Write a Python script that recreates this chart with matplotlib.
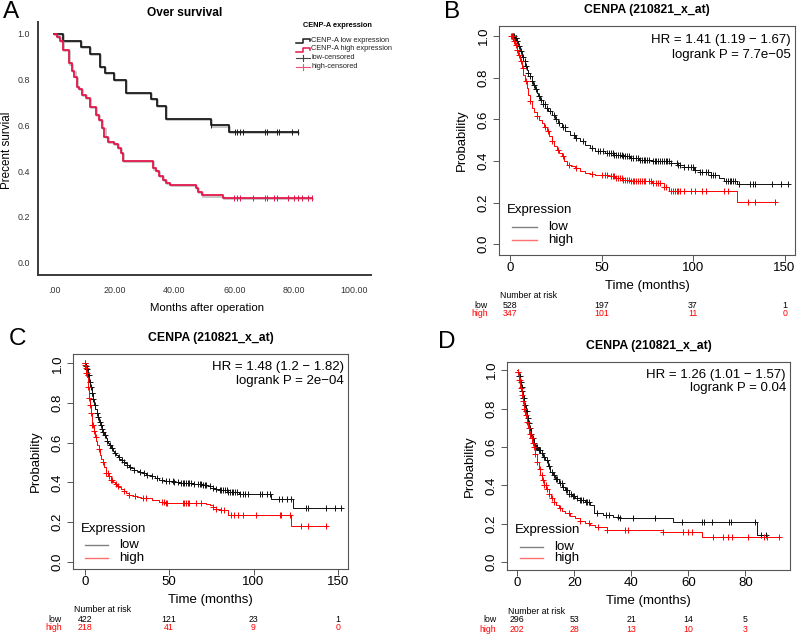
import numpy as np
import matplotlib
matplotlib.use('Agg')
import matplotlib.pyplot as plt
import matplotlib.patheffects as pe
from matplotlib.transforms import blended_transform_factory

# ---------------- data ----------------
# Panel A: over survival, CENP-A low / high
a_low_t = [3.0, 9.0, 12.0, 15.1, 16.9, 20.0, 24.0, 32.1, 34.1, 37.1, 52.1, 58.2]
a_low_s = [0.971, 0.943, 0.914, 0.857, 0.829, 0.800, 0.743, 0.714, 0.686, 0.629, 0.600, 0.571]
a_low_end = 81.1
a_low_cens = [52.1, 60.2, 61.0, 61.9, 63.0, 70.2, 71.0, 74.1, 74.9, 79.1, 81.1]

a_high_t = [0.8, 1.9, 3.0, 4.8, 5.8, 6.7, 7.5, 8.3, 9.3, 10.6, 11.9, 13.9, 15.0, 16.0, 16.7,
            18.0, 19.9, 21.1, 22.2, 23.0, 33.0, 33.9, 35.0, 36.2, 37.2, 38.5, 47.1, 48.0, 49.1, 56.1]
a_high_s = [0.986, 0.971, 0.929, 0.871, 0.838, 0.813, 0.770, 0.758, 0.733, 0.720, 0.682, 0.646, 0.624,
            0.588, 0.551, 0.526, 0.518, 0.503, 0.478, 0.446, 0.412, 0.400, 0.378, 0.363, 0.350, 0.340,
            0.325, 0.308, 0.294, 0.282]
a_high_end = 86.0
a_high_cens = [60.0, 60.8, 61.9, 66.1, 70.2, 71.0, 73.3, 74.1, 78.0, 80.0, 81.3, 82.5, 84.5, 86.0]

a_xticks = [0, 20, 40, 60, 80, 100]
a_xticklabels = ['.00', '20.00', '40.00', '60.00', '80.00', '100.00']

# Panel B
b_low_t = [0.9, 2.2, 3.6, 4.5, 5.5, 6.4, 7.3, 8.2, 9.1, 10.0, 10.9, 11.8, 12.8, 13.7, 14.6, 15.5, 16.4,
           17.8, 19.2, 21.0, 22.8, 24.6, 26.4, 28.2, 30.1, 32.8, 35.6, 38.3, 41.0, 43.7, 46.5, 52.0,
           56.5, 61.1, 65.6, 70.2, 77.5, 88.0, 91.5, 95.0, 100.5, 104.0, 110.0, 114.0, 117.0, 124.0]
b_low_s = [0.998, 0.99, 0.975, 0.95, 0.927, 0.90, 0.879, 0.858, 0.838, 0.822, 0.806, 0.786, 0.766,
           0.746, 0.726, 0.71, 0.694, 0.674, 0.654, 0.638, 0.622, 0.602, 0.582, 0.562, 0.542, 0.526,
           0.51, 0.494, 0.478, 0.462, 0.446, 0.438, 0.43, 0.422, 0.414, 0.406, 0.398, 0.389, 0.381,
           0.373, 0.357, 0.349, 0.333, 0.317, 0.304, 0.289]
b_low_end = 152
b_low_cens = [1, 1.5, 2, 2.5, 3, 3.5, 4, 5, 6, 7, 8, 9, 10, 11, 12, 13, 14, 16, 17, 18, 19, 20, 22, 24,
              25, 27, 29, 30, 35, 36, 40, 45, 48, 49, 51, 53, 54, 55, 56, 57, 58, 59, 60, 61, 62, 63,
              64, 65, 66, 67, 69, 70, 71, 72, 73, 74, 75, 76, 78, 79, 80, 81, 82, 83, 84, 85, 86, 87,
              88, 91, 92, 93, 95, 97, 99, 100, 101, 104, 105, 107, 108, 110, 111, 112, 118, 119, 120,
              121, 122, 123, 125, 131, 133, 134, 143, 148, 152]

b_high_t = [0.9, 1.8, 2.7, 3.6, 4.6, 5.5, 6.4, 7.3, 8.2, 9.1, 10.0, 10.9, 11.9, 13.2, 14.6, 16.0,
            17.3, 18.7, 20.1, 21.4, 22.8, 24.2, 25.6, 27.0, 28.3, 29.6, 31.0, 33.3, 35.6, 38.3, 41.0,
            43.7, 46.5, 53.8, 57.5, 61.1, 65.6, 70.2, 77.5, 84.0, 87.0, 124.0]
b_high_s = [0.998, 0.978, 0.958, 0.934, 0.910, 0.878, 0.846, 0.814, 0.782, 0.75, 0.718, 0.686, 0.654,
            0.634, 0.614, 0.598, 0.582, 0.562, 0.542, 0.518, 0.494, 0.474, 0.454, 0.438, 0.422, 0.402,
            0.382, 0.374, 0.366, 0.354, 0.342, 0.336, 0.331, 0.326, 0.318, 0.310, 0.306, 0.302, 0.294,
            0.277, 0.256, 0.205]
b_high_end = 145
b_high_cens = [0.5, 1, 1.5, 2, 3, 4, 5, 6, 7, 9, 11, 15, 19, 21, 23, 26, 29, 32, 36, 45, 50, 52, 53,
               55, 56, 57, 58, 59, 60, 61, 62, 63, 64, 65, 66, 67, 68, 69, 70, 71, 72, 73, 74, 76, 77,
               78, 80, 81, 82, 84, 85, 88, 89, 90, 91, 92, 93, 95, 99, 101, 105, 107, 117, 119, 130,
               134, 145]

# Panel C
c_low_t = [0.5, 1, 1.8, 2.6, 3.3, 4, 4.7, 5.5, 6.2, 7, 7.8, 8.5, 9.3, 10, 10.8, 11.5, 12.3, 13, 13.7,
           14.4, 15.5, 16.5, 17.5, 18.4, 19.5, 20.5, 21.4, 22.3, 23.7, 25, 26.2, 27.3, 29, 31, 32.6,
           34.2, 36.5, 39, 41.5, 44.1, 47, 50, 53, 56, 65, 70, 73, 75.8, 78, 80, 84.7, 88, 91.6,
           110.6, 123.3]
c_low_s = [0.985, 0.97, 0.94, 0.907, 0.88, 0.85, 0.82, 0.79, 0.77, 0.75, 0.728, 0.706, 0.688, 0.67,
           0.655, 0.639, 0.624, 0.61, 0.599, 0.588, 0.574, 0.56, 0.549, 0.538, 0.529, 0.52, 0.512,
           0.504, 0.496, 0.488, 0.479, 0.471, 0.463, 0.455, 0.45, 0.446, 0.438, 0.43, 0.421, 0.412,
           0.408, 0.405, 0.40, 0.395, 0.392, 0.386, 0.38, 0.37, 0.365, 0.36, 0.353, 0.35, 0.341,
           0.315, 0.269]
c_low_end = 152
c_low_cens = [0.3, 0.7, 1.2, 2, 2.5, 3, 3.5, 4, 4.5, 5, 6, 7, 8, 9, 9.5, 10, 11, 12, 13, 15, 16, 18,
              20, 22, 23, 25, 27, 29, 33, 35, 37, 40, 43, 46, 48, 50, 52, 53, 55, 57, 58, 59, 60, 61,
              62, 63, 65, 67, 68, 69, 70, 71, 72, 74, 76, 78, 80, 81, 82, 83, 84, 85, 86, 87, 88, 89,
              90, 92, 94, 95, 97, 104, 105, 108, 110, 115, 117, 120, 122, 131, 132, 143, 148, 152]

c_high_t = [0.3, 0.6, 1.0, 1.5, 2.0, 2.6, 3.0, 3.5, 4.0, 4.5, 5.2, 6.0, 6.8, 7.5, 8.2, 9.0, 9.8, 10.5,
            11.5, 12.5, 14, 15.4, 17, 18, 19.2, 20.4, 21.7, 23, 24.6, 26.3, 28.5, 31, 33.5, 36.2, 40,
            44.1, 48, 72, 74, 76, 78, 80, 84.7, 122]
c_high_s = [0.99, 0.975, 0.95, 0.93, 0.88, 0.824, 0.79, 0.75, 0.72, 0.689, 0.66, 0.63, 0.61, 0.588,
            0.566, 0.54, 0.52, 0.504, 0.475, 0.446, 0.43, 0.412, 0.40, 0.39, 0.384, 0.378, 0.366,
            0.355, 0.345, 0.336, 0.33, 0.325, 0.322, 0.319, 0.31, 0.302, 0.297, 0.29, 0.285, 0.277,
            0.268, 0.26, 0.235, 0.18]
c_high_end = 143
c_high_cens = [0, 0.3, 0.6, 1, 1.3, 2, 2.6, 3, 3.6, 4.5, 5, 5.5, 6.5, 8.5, 10.5, 12.5, 13.5, 14.5,
               15.5, 16.4, 18.4, 19.4, 23, 26.3, 30, 34.2, 36.2, 46, 47, 48, 49, 58, 59, 60, 61, 62,
               65.9, 68.8, 76, 78, 80.7, 82.7, 86.6, 88.6, 90.6, 93.5, 101.5, 115.4, 116.4, 121.5,
               128.4, 132.4, 143]

# Panel D
d_low_t = [0.25, 0.6, 1.05, 1.3, 1.6, 2.0, 2.45, 2.9, 3.4, 3.8, 4.2, 4.7, 5.15, 5.7, 6.3, 7.2, 8.1,
           9.0, 9.8, 10.7, 11.6, 12.5, 13.3, 14.5, 15.7, 16.8, 18, 19.2, 20.3, 22, 23.8, 25.6, 26.8,
           30, 33.6, 36, 54.7, 84.1]
d_low_s = [0.993, 0.97, 0.941, 0.915, 0.889, 0.855, 0.819, 0.785, 0.750, 0.723, 0.697, 0.67, 0.645,
           0.623, 0.602, 0.585, 0.567, 0.55, 0.532, 0.5, 0.471, 0.453, 0.436, 0.414, 0.393, 0.375,
           0.358, 0.345, 0.332, 0.323, 0.315, 0.297, 0.254, 0.247, 0.235, 0.23, 0.212, 0.143]
d_low_end = 87.4
d_low_cens = [0.3, 0.6, 0.9, 1.2, 1.5, 1.8, 2.1, 2.4, 2.7, 3, 3.3, 3.6, 4, 4.4, 4.8, 5.2, 5.6, 6,
              6.5, 7, 7.5, 8, 8.5, 9.5, 10.5, 11, 12, 13, 13.5, 14, 15, 15.5, 16, 17, 17.5, 18, 19,
              19.5, 20, 21, 22, 22.5, 23, 24, 24.5, 25, 27.8, 31, 32, 35.4, 36, 40.6, 48.2, 57.6,
              64.6, 65.4, 68.1, 74.2, 74.9, 83.3, 85.5, 87.1]

d_high_t = [0.25, 0.6, 1.05, 1.5, 1.9, 2.4, 2.8, 3.3, 3.75, 4.1, 4.55, 5.1, 5.7, 6.3, 6.9, 7.5, 8.1,
            8.6, 9.2, 10.1, 11, 11.9, 12.8, 13.6, 14.5, 15.6, 16.8, 18.5, 20.3, 22, 23.8, 25.5, 27.3,
            31.3, 51.2, 64.6]
d_high_s = [0.993, 0.95, 0.906, 0.87, 0.837, 0.80, 0.767, 0.73, 0.697, 0.67, 0.645, 0.623, 0.602,
            0.562, 0.523, 0.488, 0.454, 0.428, 0.402, 0.38, 0.358, 0.336, 0.315, 0.297, 0.28, 0.267,
            0.254, 0.241, 0.228, 0.215, 0.202, 0.193, 0.184, 0.169, 0.157, 0.134]
d_high_end = 92
d_high_cens = [0.3, 0.6, 0.9, 1.2, 1.5, 2, 2.5, 3, 3.5, 4, 4.5, 5, 5.5, 6, 6.3, 7, 8, 8.5, 9, 9.5,
               10, 10.5, 11, 12, 13, 15, 18, 22, 25, 28.4, 31.3, 37.7, 38.9, 51.2, 58.2, 59.9, 61.1,
               68.7, 72.2, 73.9, 75.1, 80.9, 86.4, 87.4, 91.8]

# risk tables
bc_risk_times = [0, 50, 100, 150]
b_risk_low = [528, 197, 37, 1]
b_risk_high = [347, 101, 11, 0]
c_risk_low = [422, 121, 23, 1]
c_risk_high = [218, 41, 9, 0]
d_risk_times = [0, 20, 40, 60, 80]
d_risk_low = [296, 53, 21, 14, 5]
d_risk_high = [202, 28, 13, 10, 3]

# ---------------- figure ----------------
W, H = 800, 634
plt.rcParams['font.family'] = ['Liberation Sans', 'DejaVu Sans']
fig = plt.figure(figsize=(W / 100, H / 100), dpi=100)


def fx(x):
    return x / W


def fy(y):
    return 1 - y / H


def px_axes(l, t, r, b):
    return fig.add_axes([l / W, 1 - b / H, (r - l) / W, (b - t) / H])


def km(ax, t, s, t_end, cens, color, lw=0.8, marker='+', ms=4.5, **kw):
    t = np.asarray(t, float)
    s = np.asarray(s, float)
    tt = np.r_[0, t, t_end]
    ss = np.r_[1.0, s, s[-1]]
    ax.step(tt, ss, where='post', color=color, lw=lw, **kw)
    c = np.asarray(cens, float)
    idx = np.searchsorted(t, c, side='right') - 1
    cy = np.where(idx >= 0, s[np.clip(idx, 0, None)], 1.0)
    ax.plot(c, cy, ls='none', marker=marker, ms=ms, mew=0.7, color=color)


# === Panel A ===
axA = px_axes(38, 22, 371, 275)
axA.set_xlim(-5.43, 105.57)
axA.set_ylim(-0.054, 1.052)
shadow = [pe.SimpleLineShadow(offset=(0.8, -0.8), shadow_color='#999999', alpha=0.6), pe.Normal()]
km(axA, a_low_t, a_low_s, a_low_end, a_low_cens, '#1a1a1a', lw=1.3, marker='|', ms=5,
   path_effects=shadow)
km(axA, a_high_t, a_high_s, a_high_end, a_high_cens, '#e3174b', lw=1.3, marker='|', ms=5,
   path_effects=shadow)
for sp in ['top', 'right']:
    axA.spines[sp].set_visible(False)
for sp in ['left', 'bottom']:
    axA.spines[sp].set_color('#3a3a3a')
    axA.spines[sp].set_linewidth(1.4)
axA.set_xticks(a_xticks)
axA.set_xticklabels(a_xticklabels)
axA.set_yticks(np.arange(0, 1.01, 0.2))
axA.set_yticklabels(['0.0', '0.2', '0.4', '0.6', '0.8', '1.0'])
axA.tick_params(length=0, labelsize=6.4, labelcolor='#333333')
axA.tick_params(axis='x', pad=8)
axA.tick_params(axis='y', pad=6)
fig.text(fx(11.5), fy(12), 'A', fontsize=17.5, ha='center', va='center')
fig.text(fx(185), fy(13.3), 'Over survival', fontsize=8.6, fontweight='bold', ha='center', va='center')
fig.text(fx(7.5), fy(150), 'Precent survial', fontsize=8.4, rotation=90, ha='center', va='center')
fig.text(fx(207), fy(308), 'Months after operation', fontsize=8.2, ha='center', va='center')

# === Panels B, C, D ===
def r_panel(box, xlim, ylim, xticks, letter, letter_xy, low, high, hr_txt, p_txt,
            risk_times, risk_low, risk_high):
    l, t, r, b = box
    ax = px_axes(l, t, r, b)
    ax.set_xlim(*xlim)
    ax.set_ylim(*ylim)
    km(ax, *low, color='#111111', lw=0.7)
    km(ax, *high, color='#ff0000', lw=0.7)
    for sp in ax.spines.values():
        sp.set_color('#555555')
        sp.set_linewidth(0.8)
    ax.set_xticks(xticks)
    ax.set_yticks(np.arange(0, 1.01, 0.2))
    ax.set_yticklabels(['0.0', '0.2', '0.4', '0.6', '0.8', '1.0'])
    ax.tick_params(direction='out', length=4.3, width=0.7, labelsize=9.5, color='#555555')
    ax.tick_params(axis='x', pad=0.5)
    ax.tick_params(axis='y', pad=2.5)
    plt.setp(ax.get_yticklabels(), rotation=90, va='center')

    ax.text(0.985, 0.938, hr_txt, transform=ax.transAxes, ha='right', va='center', fontsize=9.5)
    ax.text(0.985, 0.874, p_txt, transform=ax.transAxes, ha='right', va='center', fontsize=9.5)

    # legend
    lt = blended_transform_factory(ax.transAxes, ax.transData)
    ax.text(0.028, 0.167, 'Expression', transform=lt, ha='left', va='center', fontsize=9.5)
    ax.plot([0.045, 0.128], [0.082, 0.082], transform=lt, color='#808080', lw=1.0)
    ax.plot([0.045, 0.128], [0.021, 0.021], transform=lt, color='#ff7070', lw=1.0)
    ax.text(0.166, 0.082, 'low', transform=lt, ha='left', va='center', fontsize=9.5)
    ax.text(0.166, 0.021, 'high', transform=lt, ha='left', va='center', fontsize=9.5)

    cx = (l + r) / 2
    fig.text(fx(cx), fy(t - 16), 'CENPA (210821_x_at)', fontsize=8.8, fontweight='bold',
             ha='center', va='center')
    fig.text(fx(l - 37), fy((t + b) / 2), 'Probability', fontsize=9.5, rotation=90,
             ha='center', va='center')
    fig.text(fx(cx), fy(b + 31), 'Time (months)', fontsize=9.5, ha='center', va='center')
    fig.text(fx(letter_xy[0]), fy(letter_xy[1]), letter, fontsize=17.5, ha='center', va='center')

    # number at risk
    fig.text(fx(l + 1), fy(b + 41), 'Number at risk', fontsize=6.3, ha='left', va='center')
    fig.text(fx(l - 11), fy(b + 50), 'low', fontsize=6.3, ha='right', va='center')
    fig.text(fx(l - 11), fy(b + 59), 'high', fontsize=6.3, ha='right', va='center', color='#ff0000')
    rt = blended_transform_factory(ax.transData, fig.transFigure)
    for tm, n_lo, n_hi in zip(risk_times, risk_low, risk_high):
        ax.text(tm, fy(b + 50), str(n_lo), transform=rt, fontsize=6.3, ha='center', va='center',
                clip_on=False)
        ax.text(tm, fy(b + 59), str(n_hi), transform=rt, fontsize=6.3, ha='center', va='center',
                color='#ff0000', clip_on=False)
    return ax


r_panel((499, 26, 795, 255), (-6.02, 155.7), (-0.0514, 1.048), [0, 50, 100, 150], 'B', (451.7, 12),
        (b_low_t, b_low_s, b_low_end, b_low_cens), (b_high_t, b_high_s, b_high_end, b_high_cens),
        'HR = 1.41 (1.19 \u2212 1.67)', 'logrank P = 7.7e\u221205',
        bc_risk_times, b_risk_low, b_risk_high)

r_panel((73, 354, 348, 569), (-7.0, 156.0), (-0.0368, 1.047), [0, 50, 100, 150], 'C', (18, 339),
        (c_low_t, c_low_s, c_low_end, c_low_cens), (c_high_t, c_high_s, c_high_end, c_high_cens),
        'HR = 1.48 (1.2 \u2212 1.82)', 'logrank P = 2e\u221204',
        bc_risk_times, c_risk_low, c_risk_high)

r_panel((507.3, 362.3, 790, 570), (-3.5, 95.6), (-0.0402, 1.041), [0, 20, 40, 60, 80], 'D', (446.5, 342),
        (d_low_t, d_low_s, d_low_end, d_low_cens), (d_high_t, d_high_s, d_high_end, d_high_cens),
        'HR = 1.26 (1.01 \u2212 1.57)', 'logrank P = 0.04',
        d_risk_times, d_risk_low, d_risk_high)

# === Panel A legend (drawn in pixel space on top) ===
ov = fig.add_axes([0, 0, 1, 1])
ov.set_xlim(0, W)
ov.set_ylim(H, 0)
ov.axis('off')
ov.text(303, 25.7, 'CENP-A expression', fontsize=5.3, fontweight='bold', ha='left', va='center')
ov.plot([296, 303, 303, 309.5, 309.5], [42.5, 42.5, 38.8, 38.8, 41], color='#1a1a1a', lw=1.1)
ov.plot([296, 303, 303, 309.5, 309.5], [51.5, 51.5, 47.8, 47.8, 50], color='#e3174b', lw=1.1)
ov.plot([296, 309.5], [57.7, 57.7], color='#444444', lw=0.8)
ov.plot([302.5, 302.5], [54.5, 61], color='#444444', lw=0.8)
ov.plot([296, 309.5], [66.7, 66.7], color='#f0507a', lw=0.8)
ov.plot([302.5, 302.5], [63.5, 70], color='#f0507a', lw=0.8)
for yy, lab in zip([40, 49, 57.7, 66.7], ['CENP-A low expression', 'CENP-A high expression',
                                          'low-censored', 'high-censored']):
    ov.text(311, yy, lab, fontsize=5.3, ha='left', va='center', color='#222222')

fig.savefig('out.png', dpi=100)
